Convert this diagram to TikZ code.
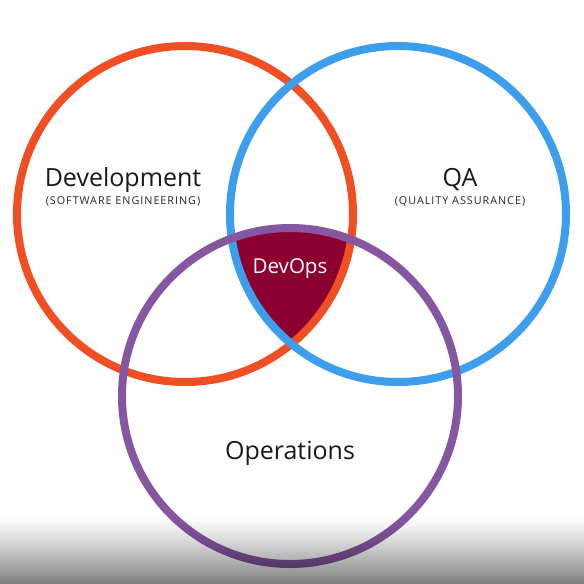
\documentclass[tikz,border=0pt]{standalone}
\usepackage{fontspec}
\setmainfont{Open Sans}
\newfontfamily\spacedfont[LetterSpace=9]{Open Sans}
\definecolor{devred}{HTML}{F04E23}
\definecolor{qablue}{HTML}{3C9EEC}
\definecolor{opspurple}{HTML}{8656A1}
\definecolor{devopsfill}{HTML}{8C0031}
\begin{document}
\begin{tikzpicture}[x=1pt,y=-1pt,
  ring/.style={line width=8pt},
  bigtitle/.style={font=\fontsize{25}{28}\selectfont, text=black!90, anchor=base, inner sep=0pt},
  subtitle/.style={font=\spacedfont\fontsize{10.8}{12}\selectfont, text=black!85, anchor=base, inner sep=0pt}]
  \useasboundingbox (0,0) rectangle (584,584);
  \fill[white] (0,0) rectangle (584,584);

  % circle centres and common radius
  \coordinate (cdev) at (185,214);
  \coordinate (cqa)  at (398,214);
  \coordinate (cops) at (290,396);

  % the region shared by all three circles
  \begin{scope}
    \clip (cdev) circle (168);
    \clip (cqa) circle (168);
    \fill[devopsfill] (cops) circle (168);
  \end{scope}

  \draw[ring, devred]    (cdev) circle (168);
  \draw[ring, qablue]    (cqa)  circle (168);
  \draw[ring, opspurple] (cops) circle (168);

  \node[bigtitle] (dev) at (123,186) {Development};
  \node[subtitle] (devsub) at (123,204) {(SOFTWARE ENGINEERING)};
  \node[bigtitle] (qa) at (460,186) {QA};
  \node[subtitle] (qasub) at (460,204) {(QUALITY ASSURANCE)};
  \node[font=\fontsize{20.5}{24}\selectfont, text=white, anchor=base, inner sep=0pt] (devops) at (290,273) {DevOps};
  \node[bigtitle] (ops) at (290,459) {Operations};

  % grey fade along the bottom edge
  \foreach \i in {0,...,67} {
    \pgfmathsetmacro{\op}{0.5*(\i/67)^1.2}
    \fill[black, opacity=\op] (0,516+\i) rectangle (584,517+\i);
  }
\end{tikzpicture}
\end{document}
